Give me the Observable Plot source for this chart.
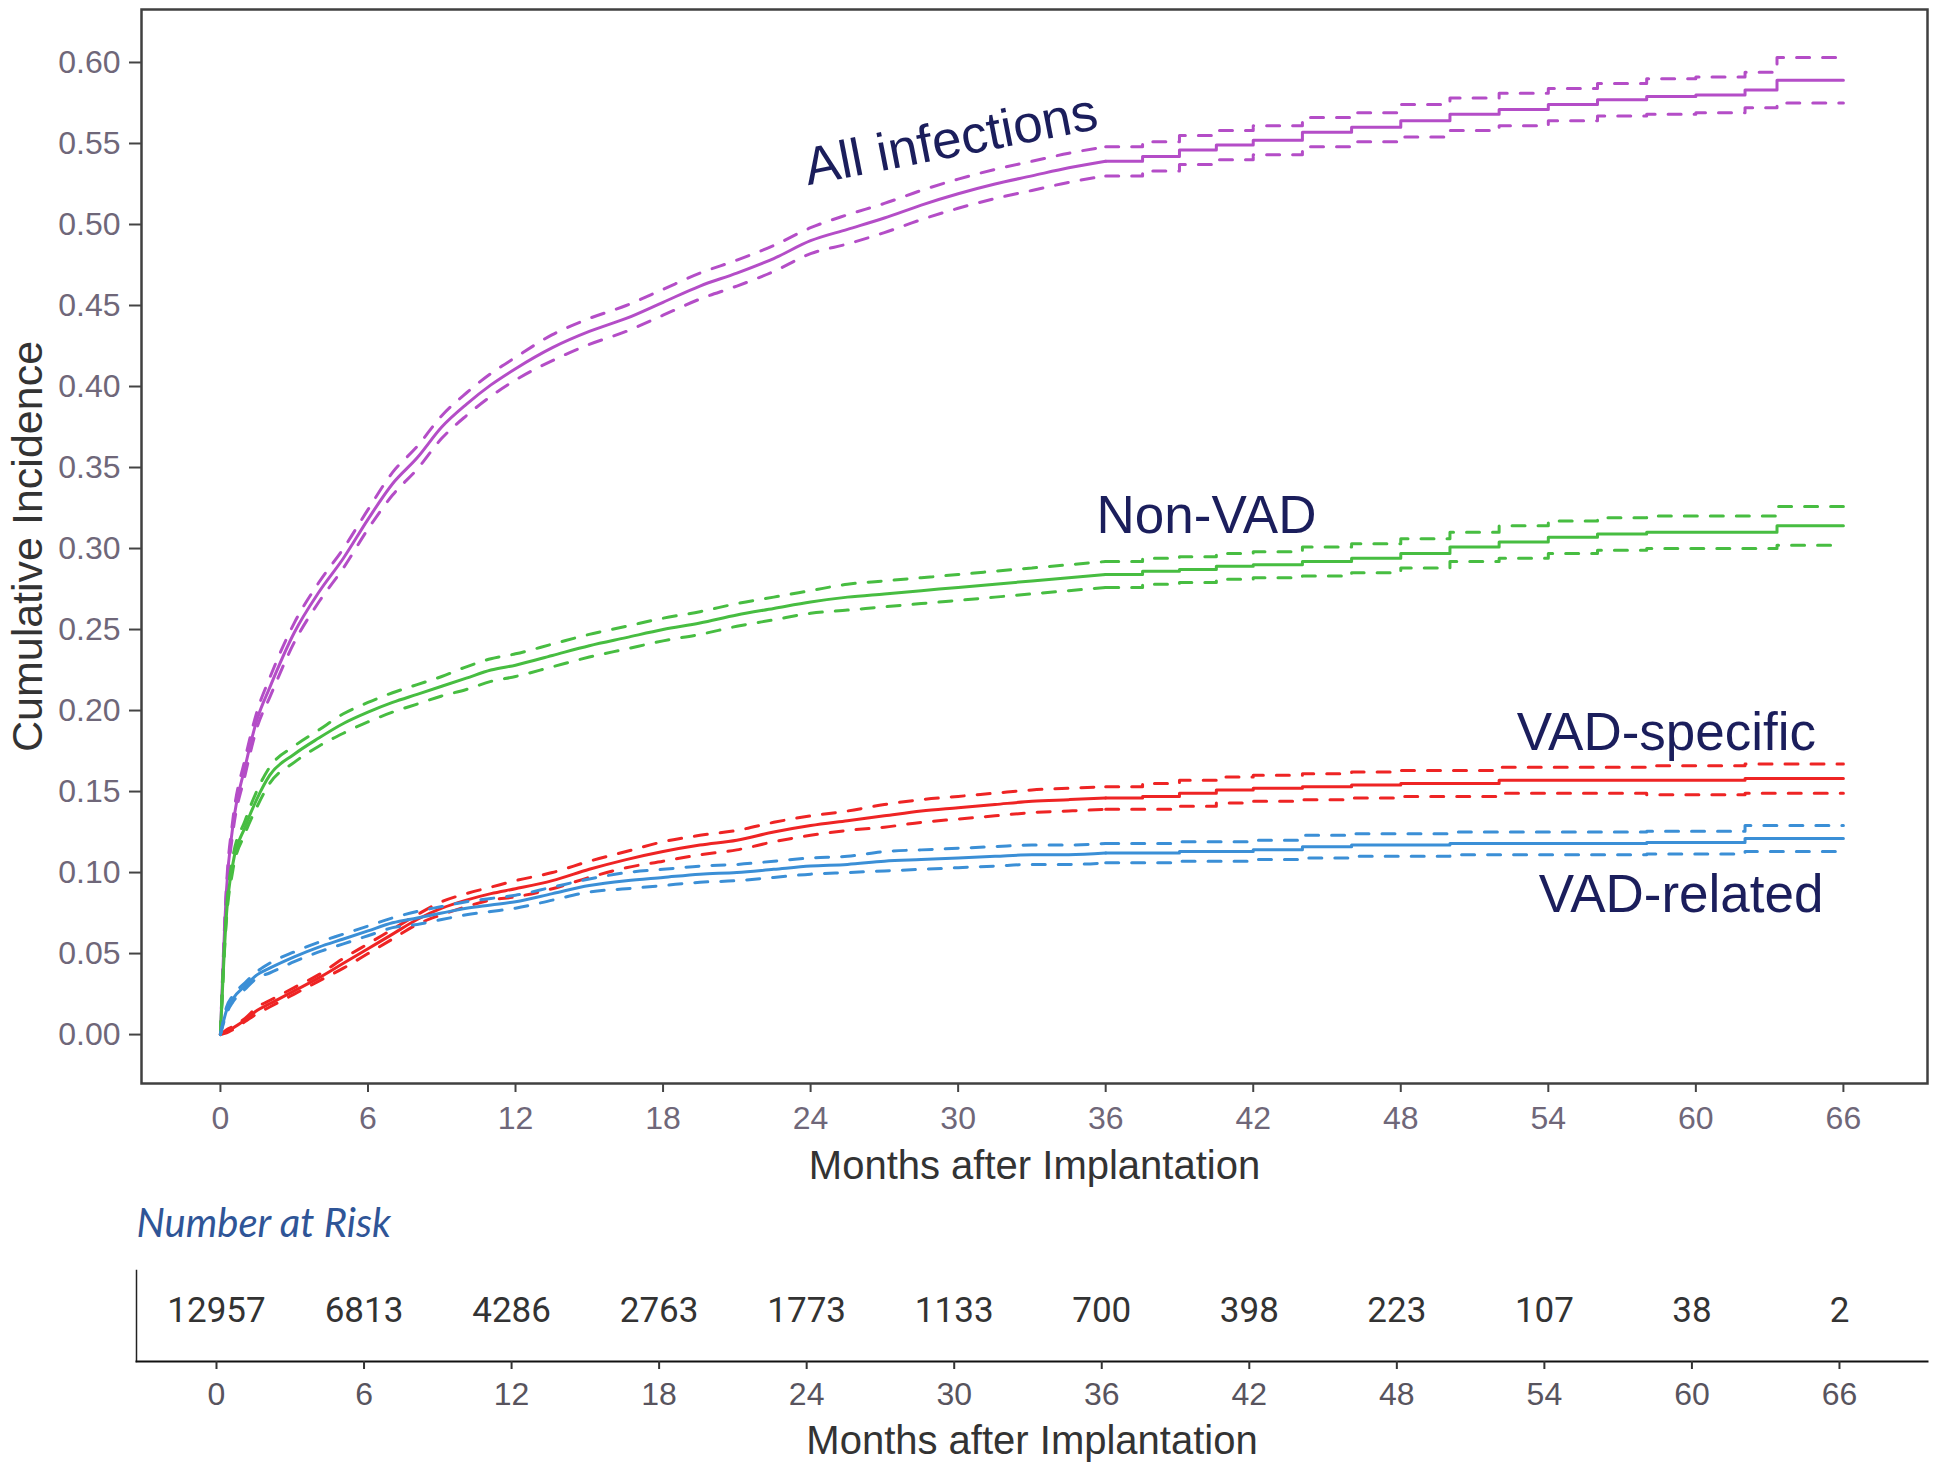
<!DOCTYPE html>
<html>
<head>
<meta charset="utf-8">
<script src="https://cdn.jsdelivr.net/npm/d3@7"></script>
<script src="https://cdn.jsdelivr.net/npm/@observablehq/plot@0.6"></script>
<style>
  html, body { margin: 0; padding: 0; background: #fff; }
  #wrap { position: relative; width: 1940px; height: 1469px; overflow: hidden; background: #fff; }
  #main { position: absolute; left: 0; top: 0; }
  #risk { position: absolute; left: 0; top: 1190px; }
</style>
</head>
<body>
<div id="wrap"><div id="main"></div><div id="risk"></div></div>
<script>
// ---------------- DATA ----------------
const months = [0,0.25,0.5,1,1.5,2, 3,4,5,6,7,8,9,10,11,12, 13.5,15,16.5,18,19.5,21,22.5,24,
  25.5,27,28.5,30,31.5,33,34.5,36, 37.5,39,40.5,42, 44,46,48,50,52,54,56,58,60,62, 63.3,66];

const allInfections = [0,0.090,0.128,0.165,0.195,0.214, 0.248,0.273,0.294,0.318,0.340,0.356,0.375,0.389,0.401,0.411,
  0.424,0.434,0.442,0.452,0.462,0.470,0.479,0.490, 0.497,0.504,0.512,0.519,0.525,0.530,0.535,0.539,
  0.542,0.546,0.549,0.552, 0.557,0.560,0.564,0.568,0.571,0.574,0.577,0.579,0.580,0.583, 0.589,0.589];
const allInfectionsCI = [0,0.003,0.004,0.005,0.005,0.006, 0.006,0.006,0.006,0.006,0.007,0.007,0.007,0.007,0.007,0.007,
  0.008,0.008,0.008,0.008,0.008,0.008,0.008,0.008, 0.009,0.009,0.009,0.009,0.009,0.009,0.009,0.009,
  0.009,0.009,0.009,0.009, 0.009,0.009,0.010,0.010,0.010,0.010,0.010,0.011,0.011,0.011, 0.014,0.014];

const nonVAD = [0,0.075,0.105,0.128,0.146,0.160, 0.173,0.183,0.192,0.199,0.205,0.210,0.215,0.220,0.225,0.228,
  0.234,0.240,0.245,0.250,0.254,0.259,0.263,0.267, 0.270,0.272,0.274,0.276,0.278,0.280,0.282,0.284,
  0.286,0.287,0.289,0.290, 0.292,0.294,0.297,0.301,0.304,0.307,0.309,0.310,0.310,0.310, 0.314,0.314];
const nonVADCI = [0,0.003,0.004,0.004,0.005,0.005, 0.005,0.005,0.006,0.006,0.006,0.006,0.006,0.007,0.007,0.007,
  0.007,0.007,0.007,0.007,0.007,0.007,0.007,0.007, 0.008,0.008,0.008,0.008,0.008,0.008,0.008,0.008,
  0.008,0.008,0.008,0.008, 0.009,0.009,0.009,0.009,0.010,0.010,0.010,0.010,0.010,0.010, 0.012,0.012];

const vadSpecific = [0,0.002,0.004,0.009,0.015,0.019, 0.027,0.035,0.044,0.053,0.062,0.071,0.078,0.083,0.087,0.090,
  0.095,0.102,0.108,0.113,0.117,0.120,0.125,0.129, 0.132,0.135,0.138,0.140,0.142,0.144,0.145,0.146,
  0.147,0.149,0.151,0.152, 0.153,0.154,0.155,0.155,0.157,0.157,0.157,0.157,0.157,0.158, 0.158,0.158];
const vadSpecificCI = [0,0.001,0.001,0.001,0.002,0.002, 0.002,0.002,0.003,0.003,0.003,0.003,0.004,0.004,0.004,0.005,
  0.005,0.005,0.005,0.006,0.006,0.006,0.006,0.006, 0.006,0.007,0.007,0.007,0.007,0.007,0.007,0.007,
  0.008,0.008,0.008,0.008, 0.008,0.008,0.008,0.008,0.008,0.008,0.008,0.009,0.009,0.009, 0.009,0.009];

const vadRelated = [0,0.015,0.022,0.030,0.037,0.041, 0.048,0.054,0.059,0.064,0.069,0.072,0.075,0.078,0.080,0.082,
  0.087,0.092,0.095,0.097,0.099,0.100,0.102,0.104, 0.105,0.107,0.108,0.109,0.110,0.111,0.111,0.112,
  0.112,0.113,0.113,0.114, 0.116,0.117,0.117,0.118,0.118,0.118,0.118,0.1185,0.1185,0.121, 0.121,0.121];
const vadRelatedCI = [0,0.002,0.002,0.002,0.002,0.003, 0.003,0.003,0.003,0.003,0.003,0.004,0.004,0.004,0.004,0.004,
  0.004,0.004,0.005,0.005,0.005,0.005,0.005,0.005, 0.005,0.006,0.006,0.006,0.006,0.006,0.006,0.006,
  0.006,0.006,0.006,0.006, 0.007,0.007,0.007,0.007,0.007,0.007,0.007,0.007,0.007,0.008, 0.008,0.008];

const seriesNames = ["All infections", "Non-VAD", "VAD-specific", "VAD-related"];
const seriesColors = ["#b44dc7", "#47bd41", "#ee2424", "#3b8fd6"];
const labelMonth = [29.7, 40.1, 58.8, 59.4];
const labelValue = [0.552, 0.320, 0.186, 0.086];
const labelAngle = [-11, 0, 0, 0];

const xTicks = [0,6,12,18,24,30,36,42,48,54,60,66];
const yTicks = [0,0.05,0.10,0.15,0.20,0.25,0.30,0.35,0.40,0.45,0.50,0.55,0.60];
const riskMonths = [0,6,12,18,24,30,36,42,48,54,60,66];
const numberAtRisk = [12957,6813,4286,2763,1773,1133,700,398,223,107,38,2];

// the early, densely-stepped part of each curve is drawn smooth; later it is drawn as steps
const smoothUntil = 36;

// ---------------- fonts ----------------
const axisFont = '"Liberation Sans", Arial, sans-serif';
const tickFS = 32;
const xTitleFS = 40;
const yTitleFS = 43;
const labelFont = '"Liberation Sans", Arial, sans-serif';

// ---------------- build rows ----------------
const valueArrays = [allInfections, nonVAD, vadSpecific, vadRelated];
const ciArrays = [allInfectionsCI, nonVADCI, vadSpecificCI, vadRelatedCI];
const series = seriesNames.map((name, k) => ({
  name, color: seriesColors[k],
  rows: months.map((t, i) => ({t, v: valueArrays[k][i], lo: Math.max(0, valueArrays[k][i] - ciArrays[k][i]), hi: valueArrays[k][i] + ciArrays[k][i]}))
}));
const curveLabels = seriesNames.map((name, k) => ({name, t: labelMonth[k], v: labelValue[k], rot: labelAngle[k]}));
const riskRows = riskMonths.map((t, i) => ({t, n: numberAtRisk[i], row: "risk"}));

const tickColor = "#6f6779";
const dash = "13,13";

function curveMarks(s, key, extra) {
  const early = s.rows.filter(d => d.t <= smoothUntil);
  const late = s.rows.filter(d => d.t >= smoothUntil);
  return [
    Plot.line(early, {x: "t", y: key, stroke: s.color, strokeWidth: 3, curve: "monotone-x", ...extra}),
    Plot.line(late, {x: "t", y: key, stroke: s.color, strokeWidth: 3, curve: "step-after", ...extra})
  ];
}

const main = Plot.plot({
  width: 1940, height: 1190,
  marginLeft: 141, marginRight: 13, marginTop: 9, marginBottom: 107,
  x: {domain: [-3.21, 69.42]},
  y: {domain: [-0.0302, 0.6327]},
  style: {background: "#fff", fontFamily: axisFont},
  marks: [
    ...series.flatMap(s => [
      ...curveMarks(s, "hi", {strokeDasharray: dash}),
      ...curveMarks(s, "lo", {strokeDasharray: dash}),
      ...curveMarks(s, "v", {})
    ]),
    Plot.frame({stroke: "#404040", strokeWidth: 2.5}),
    Plot.axisX({ticks: xTicks, tickSize: 9, tickPadding: 14, stroke: "#444", strokeWidth: 2, fill: tickColor, fontSize: tickFS, fontFamily: axisFont, label: null}),
    Plot.axisY({ticks: yTicks, tickFormat: d3.format(".2f"), tickSize: 12, tickPadding: 9, stroke: "#444", strokeWidth: 2, fill: tickColor, fontSize: tickFS, fontFamily: axisFont, label: null}),
    Plot.text(["Cumulative Incidence"], {frameAnchor: "left", textAnchor: "middle", lineAnchor: "middle", dx: -113, rotate: -90, text: d => d, fontSize: yTitleFS, fontFamily: axisFont, fill: "#333"}),
    Plot.text(["Months after Implantation"], {frameAnchor: "bottom", textAnchor: "middle", lineAnchor: "middle", dy: 83, text: d => d, fontSize: xTitleFS, fontFamily: axisFont, fill: "#333"}),
    Plot.text(curveLabels, {x: "t", y: "v", text: "name", rotate: "rot", fontSize: 53, fontFamily: labelFont, fill: "#1b1e5c"})
  ]
});
document.getElementById("main").appendChild(main);

const risk = Plot.plot({
  width: 1940, height: 279,
  marginLeft: 136, marginRight: 13, marginTop: 80, marginBottom: 108,
  x: {domain: [-3.253, 69.58]},
  y: {type: "point", domain: ["risk"], axis: null},
  style: {background: "#fff", fontFamily: axisFont},
  marks: [
    Plot.frame({anchor: "left", stroke: "#222", strokeWidth: 1.5}),
    Plot.frame({anchor: "bottom", stroke: "#111", strokeWidth: 2}),
    Plot.text(riskRows, {x: "t", y: "row", text: d => String(d.n), dy: -6, fontFamily: "Roboto, sans-serif", fontSize: 35, fill: "#333"}),
    Plot.axisX({ticks: xTicks, tickSize: 8, tickPadding: 13, stroke: "#333", strokeWidth: 2, fill: "#58545e", fontSize: tickFS, fontFamily: axisFont, label: null}),
    Plot.text(["Months after Implantation"], {frameAnchor: "bottom", textAnchor: "middle", lineAnchor: "middle", dy: 80, text: d => d, fontSize: xTitleFS, fontFamily: axisFont, fill: "#333"}),
    Plot.text(["Number at Risk"], {frameAnchor: "top-left", textAnchor: "start", lineAnchor: "middle", dy: -46, text: d => d, fontFamily: "Lato, 'Open Sans', sans-serif", fontStyle: "italic", fontSize: 40, fill: "#2f5597"})
  ]
});
document.getElementById("risk").appendChild(risk);
</script>
</body>
</html>
